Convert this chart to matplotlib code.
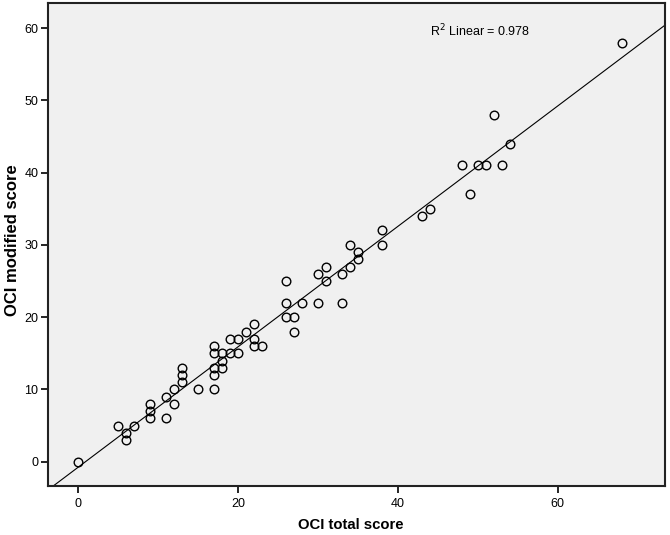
import numpy as np
import matplotlib
matplotlib.use('Agg')
import matplotlib.pyplot as plt

plt.rcParams['font.family'] = ['Liberation Sans', 'DejaVu Sans']

# OCI total score vs OCI modified score
total_score = [0, 5, 6, 6, 7, 9, 9, 9, 11, 11, 12, 12, 13, 13, 13, 15,
               17, 17, 17, 17, 17, 18, 18, 18, 19, 19, 20, 20, 21, 22, 22, 22, 23,
               26, 26, 26, 27, 27, 28, 30, 30, 31, 31, 33, 33, 34, 34, 35, 35,
               38, 38, 43, 44, 48, 49, 50, 51, 52, 53, 54, 68]
modified_score = [0, 5, 4, 3, 5, 8, 7, 6, 9, 6, 10, 8, 13, 12, 11, 10,
                  16, 15, 13, 12, 10, 15, 14, 13, 17, 15, 17, 15, 18, 19, 17, 16, 16,
                  25, 22, 20, 20, 18, 22, 26, 22, 27, 25, 26, 22, 30, 27, 29, 28,
                  32, 30, 34, 35, 41, 37, 41, 41, 48, 41, 44, 58]
r2_label = 'R$^2$ Linear = 0.978'

x = np.array(total_score, dtype=float)
y = np.array(modified_score, dtype=float)

fig = plt.figure(figsize=(6.7, 5.35), dpi=100)
ax = fig.add_axes([0.0716, 0.0921, 0.9209, 0.9014])
ax.set_facecolor('#f0f0f0')

xlim = (-3.75, 73.4)
ylim = (-3.32, 63.4)

# fit line across the whole plot
slope, intercept = np.polyfit(x, y, 1)
xs = np.array(xlim)
ax.plot(xs, slope * xs + intercept, color='black', linewidth=0.8, zorder=2)

ax.plot(x, y, linestyle='none', marker='o', markersize=6.2,
        markerfacecolor='none', markeredgecolor='black', markeredgewidth=1.0, zorder=3)

ax.text(50.3, 59.6, r2_label, fontsize=9, ha='center', va='center')

ax.set_xlim(xlim)
ax.set_ylim(ylim)
ax.set_xticks([0, 20, 40, 60])
ax.set_yticks([0, 10, 20, 30, 40, 50, 60])
ax.tick_params(axis='both', direction='out', length=5, width=1.2, labelsize=9,
               colors='black', pad=2)
ax.tick_params(axis='x', pad=4)
ax.tick_params(top=False, right=False)
for sp in ax.spines.values():
    sp.set_linewidth(1.5)
    sp.set_color('#222222')

ax.set_xlabel('OCI total score', fontsize=10.7, fontweight='bold', va='center')
ax.set_ylabel('OCI modified score', fontsize=12, fontweight='bold', va='center')
ax.xaxis.set_label_coords(0.49, -0.0815)
ax.yaxis.set_label_coords(-0.058, 0.51)

fig.savefig('out.png', dpi=100)
